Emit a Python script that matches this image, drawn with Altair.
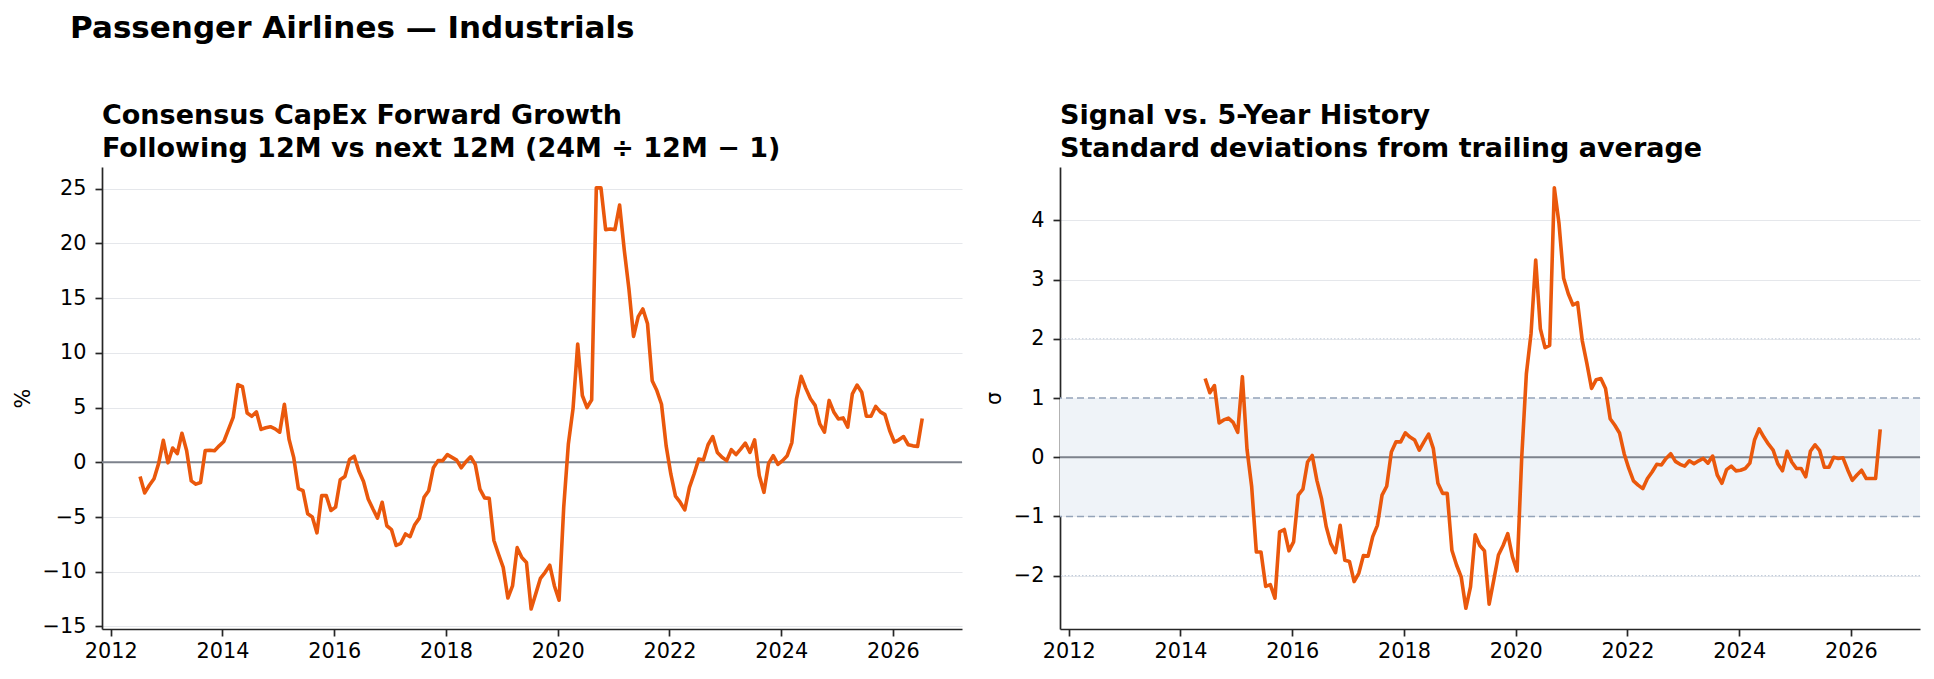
import altair as alt
import pandas as pd

FONT = "DejaVu Sans"
ORANGE = "#ea580c"

# Consensus CapEx forward growth (%), monthly from Jul 2012
growth_start = (2012, 7)
growth_pct = [
    -1.3, -2.8, -2.1, -1.5, -0.1, 2.0,
    -0.05, 1.3, 0.8, 2.65, 1.07, -1.7, -2.0, -1.85, 1.07, 1.1, 1.05, 1.5,
    1.9, 3.0, 4.1, 7.1, 6.9, 4.5, 4.2, 4.6, 3.0, 3.15, 3.25, 3.05,
    2.75, 5.3, 2.1, 0.45, -2.4, -2.6, -4.7, -5.0, -6.45, -3.05, -3.05, -4.4,
    -4.1, -1.6, -1.3, 0.25, 0.55, -0.8, -1.75, -3.35, -4.25, -5.1, -3.65, -5.8,
    -6.15, -7.6, -7.4, -6.55, -6.8, -5.7, -5.1, -3.2, -2.6, -0.5, 0.15, 0.15,
    0.7, 0.45, 0.2, -0.5, 0.05, 0.5, -0.2, -2.45, -3.25, -3.3, -7.15, -8.4,
    -9.6, -12.4, -11.3, -7.8, -8.7, -9.15, -13.4, -12.0, -10.6, -10.05, -9.4, -11.3,
    -12.6, -4.1, 1.7, 4.9, 10.8, 6.1, 5.0, 5.7, 25.06, 25.06, 21.25, 21.3,
    21.25, 23.5, 19.4, 15.85, 11.5, 13.3, 14.0, 12.65, 7.45, 6.55, 5.3, 1.5,
    -1.07, -3.1, -3.65, -4.35, -2.3, -1.07, 0.3, 0.2, 1.6, 2.35, 0.9, 0.45,
    0.15, 1.15, 0.7, 1.2, 1.75, 0.9, 2.05, -1.2, -2.75, -0.1, 0.6, -0.2,
    0.15, 0.6, 1.8, 5.8, 7.85, 6.75, 5.8, 5.2, 3.5, 2.75, 5.65, 4.6,
    3.95, 4.05, 3.2, 6.25, 7.05, 6.4, 4.2, 4.2, 5.1, 4.6, 4.35, 2.9,
    1.85, 2.05, 2.35, 1.6, 1.5, 1.45, 4.0,
]

# Signal z-score vs trailing 5-year history, monthly from Jun 2014
sigma_start = (2014, 6)
sigma_values = [
    1.33, 1.09, 1.21, 0.58, 0.63, 0.66, 0.59,
    0.42, 1.36, 0.13, -0.5, -1.6, -1.6, -2.18, -2.15, -2.38, -1.26, -1.22, -1.58,
    -1.43, -0.64, -0.54, -0.08, 0.03, -0.39, -0.7, -1.17, -1.46, -1.61, -1.15, -1.74,
    -1.76, -2.1, -1.96, -1.66, -1.67, -1.34, -1.15, -0.64, -0.49, 0.09, 0.26, 0.26,
    0.41, 0.34, 0.29, 0.12, 0.26, 0.39, 0.15, -0.44, -0.61, -0.61, -1.57, -1.82,
    -2.02, -2.55, -2.19, -1.31, -1.49, -1.58, -2.48, -2.07, -1.65, -1.49, -1.29, -1.68,
    -1.92, 0.0, 1.41, 2.09, 3.33, 2.17, 1.85, 1.89, 4.55, 3.95, 3.02, 2.76,
    2.57, 2.61, 1.97, 1.58, 1.16, 1.31, 1.33, 1.16, 0.65, 0.54, 0.41, 0.06,
    -0.19, -0.4, -0.47, -0.53, -0.36, -0.25, -0.12, -0.13, -0.02, 0.06, -0.07, -0.12,
    -0.15, -0.06, -0.11, -0.06, -0.02, -0.1, 0.02, -0.3, -0.44, -0.21, -0.15, -0.23,
    -0.22, -0.19, -0.1, 0.29, 0.48, 0.34, 0.22, 0.12, -0.11, -0.23, 0.1, -0.08,
    -0.19, -0.19, -0.33, 0.1, 0.21, 0.11, -0.17, -0.17, 0.0, -0.02, -0.01, -0.21,
    -0.39, -0.3, -0.22, -0.36, -0.36, -0.36, 0.47,
]

year_ticks = [2012, 2014, 2016, 2018, 2020, 2022, 2024, 2026]
growth_ticks = [-15, -10, -5, 0, 5, 10, 15, 20, 25]
sigma_ticks = [-2, -1, 0, 1, 2, 3, 4]
band_edges = [-1, 1]
outer_lines = [-2, 2]

W, H = 860, 462


def monthly(start, values):
    year, month = start
    t = [year + (month - 1 + i) / 12 + 0.025 for i in range(len(values))]
    return pd.DataFrame({"t": t, "v": values})


x_enc = alt.X(
    "t:Q",
    scale=alt.Scale(domain=[2011.844, 2027.237], nice=False, zero=False),
    axis=alt.Axis(values=year_ticks, format="d", title=None, grid=False, labelFlush=False),
)


def y_enc(domain, ticks, title):
    return alt.Y(
        "v:Q",
        scale=alt.Scale(domain=domain, nice=False, zero=False),
        axis=alt.Axis(values=ticks, format="d", title=title),
    )


def panel_title(lines):
    return alt.TitleParams(
        text=lines, anchor="start", frame="group", fontSize=27,
        lineHeight=33, offset=4,
    )


# Left panel: forward growth
gy = y_enc([-15.23, 26.97], growth_ticks, "%")
growth_line = alt.Chart(monthly(growth_start, growth_pct)).mark_line(
    color=ORANGE, strokeWidth=3.6, strokeJoin="round"
).encode(x=x_enc, y=gy)
growth_zero = alt.Chart(pd.DataFrame({"v": [0]})).mark_rule(
    color="#7d828c", strokeWidth=2
).encode(y=gy)
left = alt.layer(growth_zero, growth_line).properties(
    width=W, height=H,
    title=panel_title(["Consensus CapEx Forward Growth",
                       "Following 12M vs next 12M (24M ÷ 12M − 1)"]),
)

# Right panel: z-score with ±1σ band
sy = y_enc([-2.90, 4.90], sigma_ticks, "σ")
band = alt.Chart(pd.DataFrame({"v": [band_edges[0]], "v2": [band_edges[1]]})).mark_rect(
    color="#eff3f8"
).encode(y=sy, y2="v2:Q", x=alt.value(0), x2=alt.value(W))
band_lines = alt.Chart(pd.DataFrame({"v": band_edges})).mark_rule(
    color="#94a3b8", strokeWidth=1.5, strokeDash=[7, 4]
).encode(y=sy)
outer = alt.Chart(pd.DataFrame({"v": outer_lines})).mark_rule(
    color="#c3cddb", strokeWidth=1.2, strokeDash=[1.5, 2]
).encode(y=sy)
sigma_zero = alt.Chart(pd.DataFrame({"v": [0]})).mark_rule(
    color="#7d828c", strokeWidth=2
).encode(y=sy)
sigma_line = alt.Chart(monthly(sigma_start, sigma_values)).mark_line(
    color=ORANGE, strokeWidth=3.6, strokeJoin="round"
).encode(x=x_enc, y=sy)
right = alt.layer(band, band_lines, outer, sigma_zero, sigma_line).properties(
    width=W, height=H,
    title=panel_title(["Signal vs. 5-Year History",
                       "Standard deviations from trailing average"]),
)

chart = (
    alt.hconcat(left, right, spacing=20)
    .properties(
        title=alt.TitleParams(
            "Passenger Airlines — Industrials", anchor="start",
            fontSize=31, offset=57, dx=58,
        ),
        padding={"left": 12, "top": 13, "right": 5, "bottom": 5},
    )
    .configure_view(stroke=None)
    .configure_axis(
        domainColor="#262626", domainWidth=1.7,
        tickColor="#262626", tickWidth=1.7, tickSize=7,
        labelFont=FONT, labelFontSize=20.8, labelColor="#000000",
        titleFont=FONT, titleFontSize=20.8, titleFontWeight="normal",
        titleColor="#000000",
        gridColor="#e5e7eb", gridWidth=1.2,
    )
    .configure_axisY(labelPadding=9, titlePadding=9)
    .configure_axisX(labelPadding=5)
    .configure_title(font=FONT, fontWeight="bold", color="#000000")
)

chart.save("out.html", embed_options={"renderer": "svg", "actions": False})
